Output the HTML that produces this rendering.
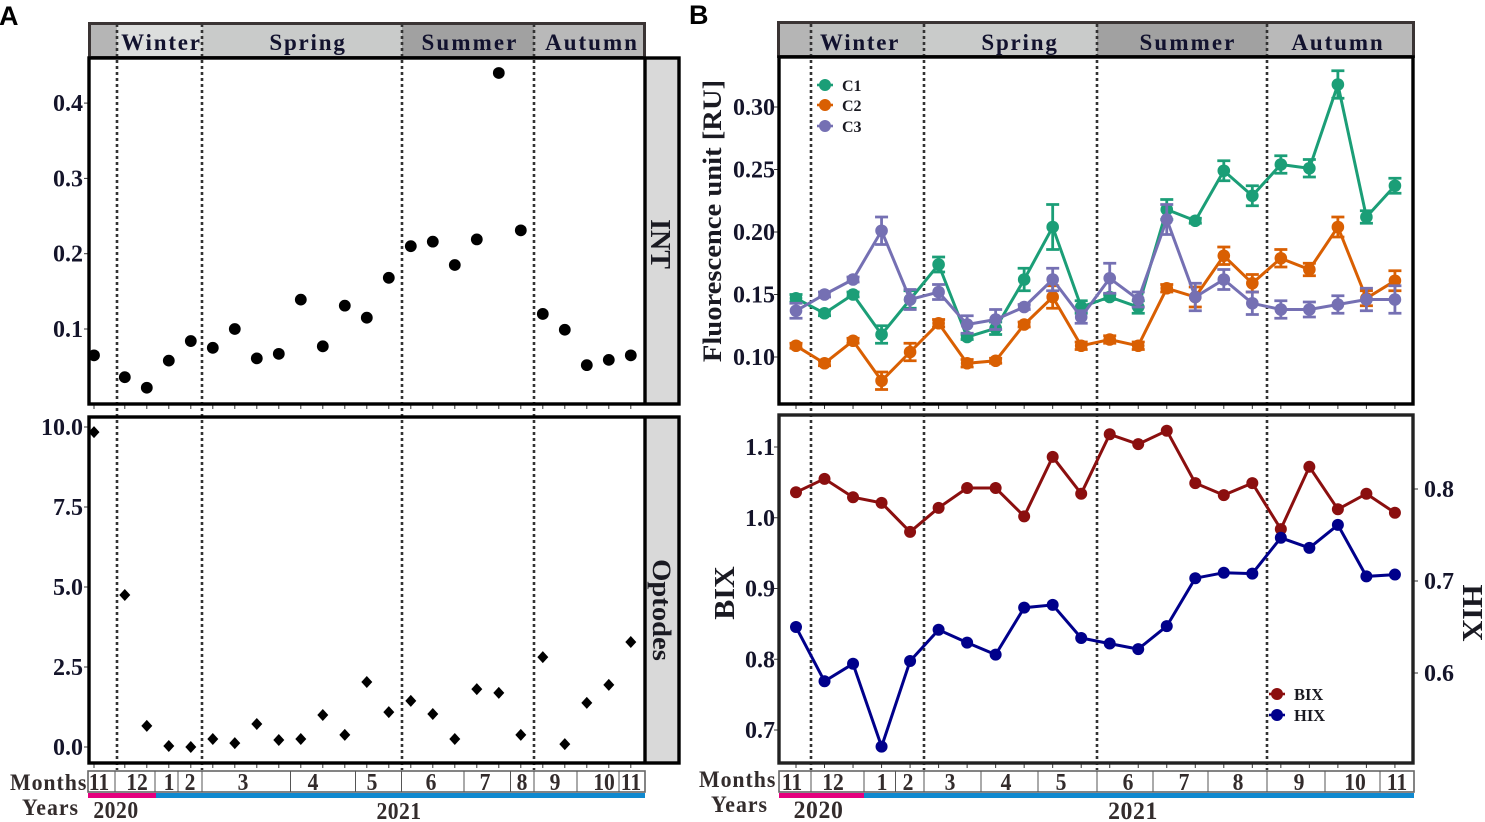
<!DOCTYPE html>
<html lang="en">
<head>
<meta charset="utf-8">
<title>Seasonal time series</title>
<style>
html,body{margin:0;padding:0;background:#fff;width:1485px;height:822px;overflow:hidden}
svg{display:block}
text{font-family:"Liberation Serif",serif;font-weight:bold;fill:#1a1a22}
.sans{font-family:"Liberation Sans",sans-serif;fill:#000}
.tick{font-size:24px;fill:#14142a}
.season{font-size:23px;fill:#12122e}
.mon{font-size:24px;fill:#332c2c}
.lbl{fill:#332c2c}
</style>
</head>
<body>
<svg id="fig" xmlns="http://www.w3.org/2000/svg" width="1485" height="822" viewBox="0 0 1485 822">
  <text class="sans" x="-1" y="25" font-size="27">A</text>
  <text class="sans" x="689" y="24" font-size="27">B</text>

  <g>
    <rect x="90" y="24" width="27" height="33" fill="#b5b5b5"/>
    <rect x="117" y="24" width="85" height="33" fill="#dcdedd"/>
    <rect x="202" y="24" width="200" height="33" fill="#c9cbca"/>
    <rect x="402" y="24" width="132" height="33" fill="#a1a1a1"/>
    <rect x="534" y="24" width="110" height="33" fill="#b9b9b9"/>
    <rect x="89.5" y="23.5" width="555" height="34" fill="none" stroke="#3a3434" stroke-width="3"/>
    <text class="season" x="161.5" y="50" text-anchor="middle" letter-spacing="1.8">Winter</text>
    <text class="season" x="308" y="50" text-anchor="middle" letter-spacing="1.8">Spring</text>
    <text class="season" x="470" y="50" text-anchor="middle" letter-spacing="2.1">Summer</text>
    <text class="season" x="592" y="50" text-anchor="middle" letter-spacing="2.0">Autumn</text>
  </g>

  <g>
    <rect x="779" y="24" width="32" height="33" fill="#b5b5b5"/>
    <rect x="811" y="24" width="113" height="33" fill="#bdbfbe"/>
    <rect x="924" y="24" width="173" height="33" fill="#c9cbca"/>
    <rect x="1097" y="24" width="170" height="33" fill="#a1a1a1"/>
    <rect x="1267" y="24" width="146" height="33" fill="#b9b9b9"/>
    <rect x="778.5" y="22.5" width="635" height="34" fill="none" stroke="#3a3434" stroke-width="3"/>
    <text class="season" x="860" y="50" text-anchor="middle" letter-spacing="1.7">Winter</text>
    <text class="season" x="1020" y="50" text-anchor="middle" letter-spacing="1.8">Spring</text>
    <text class="season" x="1188" y="50" text-anchor="middle" letter-spacing="2.1">Summer</text>
    <text class="season" x="1338" y="50" text-anchor="middle" letter-spacing="1.9">Autumn</text>
  </g>

  <g>
    <rect x="645" y="58" width="34" height="346" fill="#d9d9d9"/>
    <rect x="645" y="417" width="34" height="346" fill="#d9d9d9"/>
    <text transform="translate(651,244) rotate(90)" text-anchor="middle" font-size="28">INT</text>
    <text transform="translate(653,610) rotate(90) scale(1.1,1)" text-anchor="middle" font-size="26">Optodes</text>
  </g>

  <g id="marks"></g>

  <g fill="none" stroke="#000" stroke-width="3.4">
    <rect x="89" y="58" width="590" height="346"/>
    <line x1="645" y1="58" x2="645" y2="404"/>
    <rect x="89" y="417" width="590" height="346"/>
    <line x1="645" y1="417" x2="645" y2="763"/>
    <rect x="779" y="57" width="634" height="347"/>
    <rect x="779" y="415" width="634" height="348" stroke="#222"/>
  </g>

  <g>
    <text transform="translate(721,221) rotate(-90) scale(1.1,1)" text-anchor="middle" font-size="26">Fluorescence unit [RU]</text>
    <text transform="translate(734,593) rotate(-90) scale(1.04,1)" text-anchor="middle" font-size="29">BIX</text>
    <text transform="translate(1463,613) rotate(90) scale(1.04,1)" text-anchor="middle" font-size="29">HIX</text>
  </g>

  <g>
    <text x="842" y="91" font-size="16">C1</text>
    <text x="842" y="111" font-size="16">C2</text>
    <text x="842" y="132" font-size="16">C3</text>
  </g>
  <g>
    <text x="1294" y="700" font-size="16.5">BIX</text>
    <text x="1294" y="721" font-size="16.5">HIX</text>
  </g>

  <g class="lbl">
    <text class="lbl" transform="translate(10,790) scale(0.95,1)" font-size="23" letter-spacing="1">Months</text>
    <text class="lbl" transform="translate(22,815) scale(0.95,1)" font-size="23" letter-spacing="1">Years</text>
    <text class="lbl" transform="translate(116,818) scale(0.9,1)" text-anchor="middle" font-size="24" letter-spacing="0.6">2020</text>
    <text class="lbl" transform="translate(399,819) scale(0.9,1)" text-anchor="middle" font-size="24" letter-spacing="0.5">2021</text>
    <text class="lbl" transform="translate(699,787) scale(0.95,1)" font-size="23" letter-spacing="1">Months</text>
    <text class="lbl" transform="translate(711,812) scale(0.95,1)" font-size="23" letter-spacing="1">Years</text>
    <text class="lbl" transform="translate(818.5,818) scale(0.95,1)" text-anchor="middle" font-size="25" letter-spacing="0.6">2020</text>
    <text class="lbl" transform="translate(1133,819) scale(0.95,1)" text-anchor="middle" font-size="25" letter-spacing="0.6">2021</text>
  </g>
  <g id="timeline"></g>
</svg>

<script>
// ---- Panel A data ----
var sampleWeekA = [0,1.4,2.4,3.4,4.4,5.4,6.4,7.4,8.4,9.4,10.4,11.4,12.4,13.4,14.4,15.4,16.4,17.4,18.4,19.4,20.4,21.4,22.4,23.4,24.4];
var intValues = [0.065,0.036,0.022,0.058,0.084,0.075,0.100,0.061,0.067,0.139,0.077,0.131,0.115,0.168,0.210,0.216,0.185,0.219,0.440,0.231,0.120,0.099,0.052,0.059,0.065];
var optodeValues = [9.84,4.75,0.66,0.03,0.00,0.25,0.12,0.72,0.22,0.25,1.00,0.38,2.03,1.09,1.44,1.03,0.25,1.81,1.69,0.38,2.81,0.09,1.38,1.94,3.28];
var intTicks = ["0.1","0.2","0.3","0.4"];
var optodeTicks = ["0.0","2.5","5.0","7.5","10.0"];

// ---- Panel B data ----
var sampleIndexB = [0,1,2,3,4,5,6,7,8,9,10,11,12,13,14,15,16,17,18,19,20,21];
var c1Values = [0.147,0.135,0.150,0.118,0.146,0.174,0.116,0.123,0.162,0.204,0.140,0.148,0.140,0.218,0.209,0.249,0.229,0.254,0.251,0.318,0.212,0.237];
var c1Errors = [0.003,0.002,0.002,0.007,0.007,0.006,0.002,0.005,0.009,0.018,0.005,0.002,0.005,0.008,0.002,0.008,0.008,0.007,0.007,0.011,0.005,0.006];
var c2Values = [0.109,0.095,0.113,0.081,0.104,0.127,0.095,0.097,0.126,0.148,0.109,0.114,0.109,0.155,0.148,0.181,0.159,0.179,0.170,0.204,0.147,0.161];
var c2Errors = [0.002,0.002,0.002,0.007,0.007,0.003,0.003,0.002,0.002,0.009,0.003,0.003,0.003,0.003,0.008,0.007,0.007,0.007,0.005,0.008,0.006,0.008];
var c3Values = [0.137,0.150,0.162,0.201,0.146,0.152,0.126,0.130,0.140,0.162,0.132,0.163,0.146,0.210,0.148,0.162,0.143,0.138,0.138,0.142,0.146,0.146];
var c3Errors = [0.006,0.002,0.002,0.011,0.008,0.006,0.007,0.008,0.002,0.009,0.005,0.012,0.006,0.012,0.011,0.008,0.009,0.007,0.006,0.007,0.009,0.011];
var bixValues = [1.036,1.055,1.029,1.021,0.980,1.014,1.042,1.042,1.002,1.086,1.034,1.118,1.104,1.123,1.049,1.032,1.049,0.984,1.072,1.012,1.034,1.007];
var hixValues = [0.650,0.591,0.610,0.520,0.613,0.647,0.633,0.620,0.671,0.674,0.638,0.632,0.626,0.651,0.703,0.709,0.708,0.747,0.736,0.761,0.705,0.707];
var fluorTicks = ["0.10","0.15","0.20","0.25","0.30"];
var bixTicks = ["0.7","0.8","0.9","1.0","1.1"];
var hixTicks = ["0.6","0.7","0.8"];

// ---- Timeline data ----
var monthLabels = ["11","12","1","2","3","4","5","6","7","8","9","10","11"];

// ---- Axis functions ----
function xA(w){ return 94 + 22 * w; }
function xB(i){ return 796 + 28.52 * i; }
function yInt(v){ return 329 - (v - 0.1) * 753; }
function yOpt(v){ return 747 - v * 32; }
function yFl(v){ return 357 - (v - 0.1) * 1250; }
function yBix(v){ return 730 - (v - 0.7) * 707.5; }
function yHix(v){ return 673 - (v - 0.6) * 920; }

var NS = 'http://www.w3.org/2000/svg';
var marks = document.getElementById('marks');
var timeline = document.getElementById('timeline');
function mk(tag, attrs, parent){
  var el = document.createElementNS(NS, tag);
  for (var k in attrs) el.setAttribute(k, attrs[k]);
  parent.appendChild(el);
  return el;
}
function group(parent, name){
  var g = mk('g', {}, parent);
  
  
  return g;
}

// season dividers
function dividers(xs, name){
  var g = group(marks, name);
  xs.forEach(function(x){
    var el = mk('line', {x1:x, x2:x, y1:24, y2:770, stroke:'#333', 'stroke-width':2.6, 'stroke-dasharray':'3 3'}, g);
    
    
  });
}
dividers([117,202,402,534], 'season-dividers-a');
dividers([811,924,1097,1267], 'season-dividers-b');

// x ticks
function xTicks(xs, y0, name){
  var g = group(marks, name);
  xs.forEach(function(x){
    var el = mk('line', {x1:x, x2:x, y1:y0, y2:y0+4, stroke:'#333', 'stroke-width':1}, g);
    
    
  });
}
xTicks(sampleWeekA.map(xA), 405, 'x-ticks-int');
xTicks(sampleWeekA.map(xA), 764, 'x-ticks-optodes');
xTicks(sampleIndexB.map(xB), 405, 'x-ticks-fluorescence');
xTicks(sampleIndexB.map(xB), 764, 'x-ticks-indices');

// y ticks
function yTicks(labels, yFn, xAxis, side, gap, name){
  var g = group(marks, name);
  labels.forEach(function(t){
    var y = yFn(parseFloat(t));
    var tick = mk('line', {x1:xAxis, x2:xAxis + side*4, y1:y, y2:y, stroke:'#333', 'stroke-width':1}, g);
    
    
    var tx = mk('text', {x:xAxis + side*gap, y:y+8, 'text-anchor': side < 0 ? 'end' : 'start', 'class':'tick'}, g);
    tx.textContent = t;
    
    
  });
}
yTicks(intTicks, yInt, 88, -1, 5, 'y-axis-int');
yTicks(optodeTicks, yOpt, 88, -1, 5, 'y-axis-optodes');
yTicks(fluorTicks, yFl, 778, -1, 3, 'y-axis-fluorescence');
yTicks(bixTicks, yBix, 778, -1, 3, 'y-axis-bix');
yTicks(hixTicks, yHix, 1414, 1, 10, 'y-axis-hix');

// Panel A points
var gInt = group(marks, 'series-int');
intValues.forEach(function(v, i){
  var el = mk('circle', {cx:xA(sampleWeekA[i]), cy:yInt(v), r:5.9, fill:'#000'}, gInt);
  
  
});
var gOpt = group(marks, 'series-optodes');
optodeValues.forEach(function(v, i){
  var cx = xA(sampleWeekA[i]), cy = yOpt(v);
  var el = mk('path', {d:'M'+cx+' '+(cy-6)+'L'+(cx+5.5)+' '+cy+'L'+cx+' '+(cy+6)+'L'+(cx-5.5)+' '+cy+'Z', fill:'#000'}, gOpt);
  
  
});

// Panel B lines
function lineSeries(values, errors, yFn, color, name){
  var g = group(marks, name);
  var pts = values.map(function(v, i){ return xB(sampleIndexB[i]).toFixed(1)+','+yFn(v).toFixed(1); }).join(' ');
  var pl = mk('polyline', {points:pts, fill:'none', stroke:color, 'stroke-width':3}, g);
  
  
  values.forEach(function(v, i){
    var x = xB(sampleIndexB[i]);
    if (errors) {
      var hi = yFn(v + errors[i]), lo = yFn(v - errors[i]);
      var d = 'M'+x+' '+hi+'V'+lo+'M'+(x-6.5)+' '+hi+'H'+(x+6.5)+'M'+(x-6.5)+' '+lo+'H'+(x+6.5);
      var eb = mk('path', {d:d, fill:'none', stroke:color, 'stroke-width':2.8}, g);
      
      
    }
    var c = mk('circle', {cx:x, cy:yFn(v), r:errors ? 6.3 : 6, fill:color}, g);
    
    
  });
}
lineSeries(c1Values, c1Errors, yFl, '#1b9e77', 'series-c1');
lineSeries(c2Values, c2Errors, yFl, '#d95f02', 'series-c2');
lineSeries(c3Values, c3Errors, yFl, '#7570b3', 'series-c3');
lineSeries(bixValues, null, yBix, '#8b0f0f', 'series-bix');
lineSeries(hixValues, null, yHix, '#00008b', 'series-hix');

// Legend keys
function legendKey(x, y, color, name){
  var g = group(marks, name);
  var l = mk('line', {x1:x-8, x2:x+8, y1:y, y2:y, stroke:color, 'stroke-width':2.6}, g);
  
  
  var c = mk('circle', {cx:x, cy:y, r:6, fill:color}, g);
  
  
}
legendKey(825, 85, '#1b9e77', 'legend-key-c1');
legendKey(825, 105, '#d95f02', 'legend-key-c2');
legendKey(825, 126, '#7570b3', 'legend-key-c3');
legendKey(1277, 694, '#8b0f0f', 'legend-key-bix');
legendKey(1277, 715, '#00008b', 'legend-key-hix');

// Month timelines (box edges are layout, label text comes from monthLabels)
function monthRow(edges, centers, top, pinkEnd, name){
  var g = group(timeline, name);
  var h = 21;
  var box = mk('rect', {x:edges[0], y:top, width:edges[edges.length-1]-edges[0], height:h, fill:'#fff', stroke:'#666', 'stroke-width':1.6}, g);
  
  
  edges.slice(1, -1).forEach(function(x){
    var d = mk('line', {x1:x, x2:x, y1:top, y2:top+h, stroke:'#555', 'stroke-width':1}, g);
    
    
  });
  monthLabels.forEach(function(m, i){
    var t = mk('text', {transform:'translate('+centers[i]+','+(top+19)+') scale(0.9,1)', 'text-anchor':'middle', 'class':'mon'}, g);
    t.textContent = m;
    
    
  });
  var pink = mk('rect', {x:edges[0], y:top+h+1, width:pinkEnd-edges[0], height:5, fill:'#e5007e'}, g);
  
  
  var blue = mk('rect', {x:pinkEnd, y:top+h+1, width:edges[edges.length-1]-pinkEnd, height:5, fill:'#1089cf'}, g);
  
  
}
monthRow([88,115,155,178,202,290.5,355.5,401.5,464,510.5,534,577,619,645],
         [99,137,169,190,243,313,372,431,485,522,555,604,631], 771, 156, 'month-row-a');
monthRow([779,811,864,895.5,924,981,1038,1097,1153,1208,1267,1325,1380,1414],
         [792,833,882,908,950,1006,1061,1128,1184,1238,1299,1355,1397], 771, 864, 'month-row-b');
</script>
</body>
</html>
